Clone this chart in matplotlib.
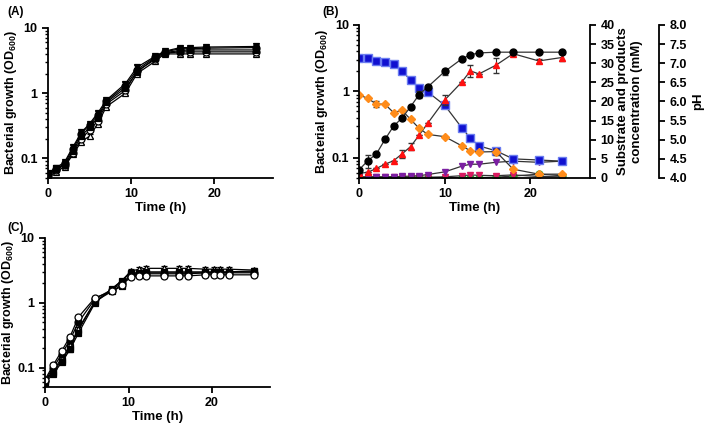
import matplotlib
matplotlib.use("Agg")
import matplotlib.pyplot as plt
from matplotlib.ticker import FixedLocator, FuncFormatter, LogLocator, NullFormatter, MultipleLocator

plt.rcParams["font.family"] = ["Liberation Sans", "DejaVu Sans"]
plt.rcParams["font.weight"] = "bold"
plt.rcParams["axes.labelweight"] = "bold"
plt.rcParams["mathtext.fontset"] = "custom"
plt.rcParams["mathtext.bf"] = "Liberation Sans:bold"
plt.rcParams["mathtext.rm"] = "Liberation Sans:bold"
plt.rcParams["mathtext.default"] = "bf"

# ---- Panel A: growth curves ----
time_a = [0, 1, 2, 3, 4, 5, 6, 7, 9.3, 10.7, 12.9, 14, 15.9, 17, 19, 25]
a_circle = [0.058, 0.068, 0.085, 0.14, 0.24, 0.33, 0.46, 0.75, 1.3, 2.3, 3.6, 4.3, 4.8, 4.8, 4.9, 5.0]
a_square = [0.055, 0.07, 0.08, 0.13, 0.22, 0.30, 0.42, 0.72, 1.2, 2.1, 3.5, 4.2, 4.5, 4.6, 4.6, 4.6]
a_tri_open = [0.053, 0.062, 0.075, 0.115, 0.18, 0.22, 0.34, 0.62, 1.0, 2.0, 3.1, 4.0, 4.0, 4.0, 4.0, 4.0]
a_tri_down = [0.06, 0.072, 0.088, 0.15, 0.25, 0.34, 0.5, 0.78, 1.4, 2.5, 3.7, 4.4, 5.0, 5.0, 5.1, 5.2]
a_circle_open = [0.056, 0.066, 0.08, 0.12, 0.2, 0.27, 0.38, 0.68, 1.1, 2.2, 3.3, 4.1, 4.3, 4.3, 4.3, 4.3]

# ---- Panel B: growth, substrate, products, pH ----
time_b = [0, 1, 2, 3, 4, 5, 6, 7, 8, 10, 12, 13, 14, 16, 18, 21, 23.7]
b_od = [0.067, 0.091, 0.115, 0.19, 0.30, 0.40, 0.59, 0.90, 1.17, 2.0, 3.1, 3.57, 3.8, 3.9, 3.9, 3.9, 3.9]
b_od_err = [0, 0.02, 0, 0, 0, 0, 0, 0.1, 0, 0.2, 0, 0, 0, 0, 0, 0, 0]
b_substrate = [31.5, 31.5, 30.5, 30.2, 29.7, 28.0, 25.6, 23.6, 22.5, 19.0, 13.1, 10.4, 8.4, 7.1, 5.0, 4.7, 4.4]
b_product1 = [1.2, 1.5, 2.5, 3.6, 4.5, 6.3, 8.2, 11.2, 14.3, 20.4, 25.1, 28.0, 27.2, 29.5, 32.5, 30.6, 31.5]
b_product1_err = [0, 0, 0, 0, 0, 1.0, 1.0, 0, 0, 1.2, 0, 1.5, 0, 2.0, 0, 0.5, 1.0]
b_product2 = [0.3, 0.3, 0.3, 0.3, 0.35, 0.4, 0.5, 0.6, 0.9, 1.6, 3.1, 3.6, 3.6, 4.1, 4.4, 4.1, 4.4]
b_product3 = [0.2, 0.2, 0.2, 0.2, 0.2, 0.2, 0.2, 0.2, 0.2, 0.3, 0.6, 0.8, 0.7, 0.6, 0.8, 0.4, 0.3]
b_product4 = [0.1, 0.1, 0.1, 0.1, 0.1, 0.1, 0.1, 0.1, 0.1, 0.1, 0.1, 0.1, 0.1, 0.2, 0.5, 1.0, 0.6]
b_ph = [6.17, 6.08, 5.93, 5.93, 5.71, 5.77, 5.53, 5.30, 5.14, 5.08, 4.84, 4.71, 4.68, 4.69, 4.23, 4.10, 4.10]
b_ph_err = [0, 0, 0.08, 0, 0, 0, 0, 0, 0, 0, 0, 0, 0, 0.08, 0, 0, 0]

# ---- Panel C: growth curves ----
time_c = [0, 1, 2, 3, 4, 6, 8, 9.2, 10.3, 11.3, 12.1, 14.2, 16.1, 17.1, 19.2, 20.2, 21, 22, 25]
c_circle_open = [0.065, 0.11, 0.18, 0.3, 0.6, 1.2, 1.5, 1.9, 2.5, 2.6, 2.6, 2.6, 2.6, 2.6, 2.7, 2.7, 2.7, 2.7, 2.7]
c_circle = [0.062, 0.1, 0.16, 0.27, 0.5, 1.15, 1.6, 2.0, 2.7, 2.8, 2.8, 2.8, 2.8, 2.8, 2.9, 2.9, 2.9, 2.9, 2.9]
c_tri_open = [0.06, 0.09, 0.14, 0.22, 0.4, 1.05, 1.6, 2.2, 3.1, 3.3, 3.4, 3.4, 3.4, 3.4, 3.3, 3.3, 3.3, 3.3, 3.2]
c_square = [0.058, 0.08, 0.12, 0.19, 0.34, 1.0, 1.65, 2.2, 2.9, 2.9, 3.0, 3.0, 3.0, 3.0, 3.0, 3.0, 3.0, 3.0, 3.1]
c_square_open = [0.063, 0.085, 0.13, 0.21, 0.38, 1.05, 1.5, 1.8, 2.8, 2.8, 2.9, 2.9, 2.9, 2.9, 2.9, 2.9, 2.9, 3.0, 3.0]

x_ticks = [0, 10, 20]
od_ticks = [0.1, 1, 10]
od_label = r"Bacterial growth (OD$_{600}$)"


def style_log_axis(ax):
    ax.set_yscale("log")
    ax.set_ylim(0.05, 10)
    ax.set_xlim(0, 27)
    ax.yaxis.set_major_locator(FixedLocator(od_ticks))
    ax.yaxis.set_major_formatter(FuncFormatter(lambda v, p: f"{v:g}"))
    ax.yaxis.set_minor_locator(LogLocator(base=10, subs=range(2, 10)))
    ax.yaxis.set_minor_formatter(NullFormatter())
    ax.xaxis.set_major_locator(FixedLocator(x_ticks))
    for s in ["top", "right"]:
        ax.spines[s].set_visible(False)
    for s in ["left", "bottom"]:
        ax.spines[s].set_linewidth(1.3)
    ax.tick_params(which="major", length=4, width=1.3, labelsize=9)
    ax.tick_params(which="minor", length=2.5, width=1.0)
    ax.set_xlabel("Time (h)", fontsize=9.5, labelpad=1)
    ax.set_ylabel(od_label, fontsize=9, labelpad=1)


def plot_growth(ax, t, y, marker, filled):
    ax.errorbar(t, y, yerr=[v * 0.07 for v in y], color="black", lw=0.9,
                marker=marker, ms=5, mfc="black" if filled else "white",
                mec="black", mew=0.9, capsize=2, elinewidth=0.8)


fig = plt.figure(figsize=(7.09, 4.25), dpi=100)

# Panel A
ax_a = fig.add_axes([0.0677, 0.5812, 0.317, 0.353])
plot_growth(ax_a, time_a, a_tri_open, "^", False)
plot_growth(ax_a, time_a, a_circle_open, "o", False)
plot_growth(ax_a, time_a, a_square, "s", True)
plot_growth(ax_a, time_a, a_tri_down, "v", True)
plot_growth(ax_a, time_a, a_circle, "o", True)
style_log_axis(ax_a)
fig.text(0.011, 0.972, "(A)", fontsize=8.5, fontweight="bold", va="center")

# Panel C
ax_c = fig.add_axes([0.0635, 0.0894, 0.318, 0.3506])
plot_growth(ax_c, time_c, c_square_open, "s", False)
plot_growth(ax_c, time_c, c_tri_open, "^", False)
plot_growth(ax_c, time_c, c_square, "s", True)
plot_growth(ax_c, time_c, c_circle, "o", True)
plot_growth(ax_c, time_c, c_circle_open, "o", False)
style_log_axis(ax_c)
fig.text(0.011, 0.463, "(C)", fontsize=8.5, fontweight="bold", va="center")

# Panel B
ax_b = fig.add_axes([0.5068, 0.5812, 0.3254, 0.36])
ax_b2 = ax_b.twinx()
ax_b3 = ax_b.twinx()
ax_b3.spines["right"].set_position(("outward", 50))

ax_b2.set_ylim(0, 40)
ax_b3.set_ylim(4.0, 8.0)

line_kw = dict(color="#333333", lw=0.9, ms=5)
ax_b2.plot(time_b, b_product4, marker="o", mfc="#2ca02c", mec="#2ca02c", **line_kw)
ax_b2.plot(time_b, b_product3, marker="v", mfc="#d81b60", mec="#d81b60", **line_kw)
ax_b2.plot(time_b, b_product2, marker="v", mfc="#7b1fa2", mec="#7b1fa2", **line_kw)
ax_b2.plot(time_b, b_substrate, marker="s", mfc="#1010d0", mec="#6a7cf0", mew=1.0, color="#333333", lw=0.9, ms=5.5)
ax_b2.errorbar(time_b, b_product1, yerr=b_product1_err, marker="^", mfc="#ff1010",
               mec="#ff1010", capsize=2, elinewidth=0.8, ecolor="#333333", **line_kw)
ax_b3.errorbar(time_b, b_ph, yerr=b_ph_err, marker="D", mfc="#ff8c1a", mec="#ff8c1a",
               capsize=2, elinewidth=0.8, ecolor="#333333", color="#333333", lw=0.9, ms=4)
ax_b.errorbar(time_b, b_od, yerr=b_od_err, marker="o", mfc="black", mec="black",
              capsize=2, elinewidth=0.8, ecolor="#333333", **line_kw)
ax_b.set_zorder(3)
ax_b.patch.set_visible(False)

style_log_axis(ax_b)
ax_b.set_ylim(0.05, 10)
ax_b.spines["right"].set_visible(False)
for a in (ax_b2, ax_b3):
    a.spines["top"].set_visible(False)
    a.spines["left"].set_visible(False)
    a.spines["bottom"].set_visible(False)
    a.spines["right"].set_linewidth(1.3)
    a.tick_params(length=4, width=1.3, labelsize=9)
ax_b2.yaxis.set_major_locator(MultipleLocator(5))
ax_b3.yaxis.set_major_locator(MultipleLocator(0.5))
ax_b3.yaxis.set_major_formatter(FuncFormatter(lambda v, p: f"{v:.1f}"))
ax_b2.set_ylabel("Substrate and products\nconcentration (mM)", fontsize=9.5, labelpad=2)
ax_b3.set_ylabel("pH", fontsize=9.5, labelpad=3)
fig.text(0.455, 0.972, "(B)", fontsize=8.5, fontweight="bold", va="center")

fig.savefig("out.png", dpi=100)
